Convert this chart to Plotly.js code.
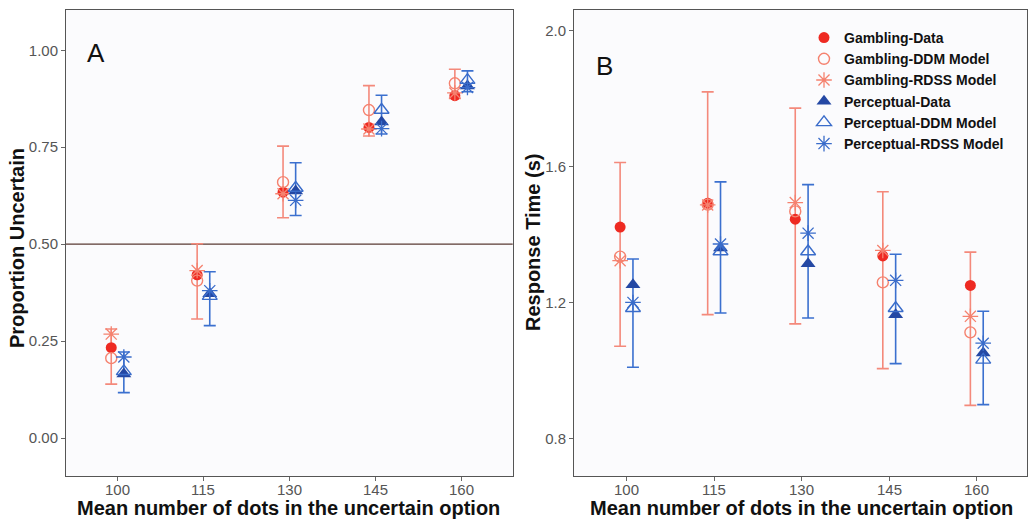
<!DOCTYPE html>
<html><head><meta charset="utf-8">
<script src="https://cdn.plot.ly/plotly-3.0.1.min.js"></script>
<style>html,body{margin:0;padding:0;background:#fff}#chart{width:1028px;height:520px}</style>
</head><body><div id="chart"></div>
<script>
// x categories
const dots = [100, 115, 130, 145, 160];
const dotLabels = ['100', '115', '130', '145', '160'];

// Panel A: proportion uncertain
const propGambData = [0.233, 0.421, 0.634, 0.801, 0.883];
const propGambDDM  = [0.206, 0.406, 0.660, 0.846, 0.915];
const propGambRDSS = [0.268, 0.432, 0.630, 0.797, 0.890];
const propGambErrHi = [0.281, 0.501, 0.753, 0.909, 0.951];
const propGambErrLo = [0.139, 0.307, 0.568, 0.779, 0.876];
const propPercData = [0.165, 0.372, 0.637, 0.815, 0.908];
const propPercDDM  = [0.172, 0.366, 0.645, 0.846, 0.923];
const propPercRDSS = [0.209, 0.380, 0.613, 0.798, 0.904];
const propPercErrHi = [0.222, 0.429, 0.710, 0.884, 0.947];
const propPercErrLo = [0.117, 0.290, 0.574, 0.784, 0.893];

// Panel B: response time (s)
const rtGambData = [1.422, 1.492, 1.445, 1.337, 1.250];
const rtGambDDM  = [1.335, 1.488, 1.468, 1.259, 1.112];
const rtGambRDSS = [1.323, 1.487, 1.494, 1.353, 1.159];
const rtGambErrHi = [1.612, 1.820, 1.772, 1.526, 1.348];
const rtGambErrLo = [1.071, 1.164, 1.137, 1.005, 0.897];
const rtPercData = [1.252, 1.360, 1.314, 1.164, 1.051];
const rtPercDDM  = [1.183, 1.350, 1.350, 1.183, 1.031];
const rtPercRDSS = [1.200, 1.372, 1.404, 1.265, 1.080];
const rtPercErrHi = [1.328, 1.555, 1.547, 1.342, 1.174];
const rtPercErrLo = [1.009, 1.169, 1.154, 1.020, 0.899];

const seriesNames = ['Gambling-Data', 'Gambling-DDM Model', 'Gambling-RDSS Model',
                     'Perceptual-Data', 'Perceptual-DDM Model', 'Perceptual-RDSS Model'];

const RED = '#ee2a22', SALMON = '#f5826f', BLUE = '#2448a4', LBLUE = '#3a6cca';
const ERR_RED = '#f4897b', ERR_BLUE = '#3b70cf';
const DODGE = 1.1;

function xs(off) { return dots.map(d => d + off); }

function panelTraces(xa, ya, legend, g, p) {
  const t = [];
  // error bars (behind markers)
  t.push({x: xs(-DODGE), y: g.lo, xaxis: xa, yaxis: ya, type: 'scatter', mode: 'markers',
    marker: {size: 1, color: 'rgba(0,0,0,0)'}, showlegend: false, hoverinfo: 'skip',
    error_y: {type: 'data', symmetric: false, array: g.hi.map((h, i) => h - g.lo[i]),
      arrayminus: g.lo.map(() => 0), color: ERR_RED, thickness: 1.6, width: 6}});
  t.push({x: xs(DODGE), y: p.lo, xaxis: xa, yaxis: ya, type: 'scatter', mode: 'markers',
    marker: {size: 1, color: 'rgba(0,0,0,0)'}, showlegend: false, hoverinfo: 'skip',
    error_y: {type: 'data', symmetric: false, array: p.hi.map((h, i) => h - p.lo[i]),
      arrayminus: p.lo.map(() => 0), color: ERR_BLUE, thickness: 1.6, width: 6}});
  const defs = [
    [g.data, -DODGE, {symbol: 'circle', size: 11, color: RED}],
    [g.ddm, -DODGE, {symbol: 'circle-open', size: 11, color: SALMON, line: {width: 1.4, color: SALMON}}],
    [g.rdss, -DODGE, {symbol: 'asterisk-open', size: 13, color: SALMON, line: {width: 1.3, color: SALMON}}],
    [p.data, DODGE, {symbol: 'triangle-up', size: 13, color: BLUE}],
    [p.ddm, DODGE, {symbol: 'triangle-up-open', size: 13, color: LBLUE, line: {width: 1.4, color: LBLUE}}],
    [p.rdss, DODGE, {symbol: 'asterisk-open', size: 13, color: LBLUE, line: {width: 1.3, color: LBLUE}}]
  ];
  defs.forEach((d, i) => {
    t.push({x: xs(d[1]), y: d[0], xaxis: xa, yaxis: ya, type: 'scatter', mode: 'markers',
      name: seriesNames[i], marker: d[2], showlegend: legend});
  });
  return t;
}

const traces = [].concat(
  panelTraces('x', 'y', false,
    {data: propGambData, ddm: propGambDDM, rdss: propGambRDSS, hi: propGambErrHi, lo: propGambErrLo},
    {data: propPercData, ddm: propPercDDM, rdss: propPercRDSS, hi: propPercErrHi, lo: propPercErrLo}),
  panelTraces('x2', 'y2', true,
    {data: rtGambData, ddm: rtGambDDM, rdss: rtGambRDSS, hi: rtGambErrHi, lo: rtGambErrLo},
    {data: rtPercData, ddm: rtPercDDM, rdss: rtPercRDSS, hi: rtPercErrHi, lo: rtPercErrLo})
);

const W = 1028, H = 520, ML = 66, MR = 1, MT = 10, MB = 44;
const px = v => (v - ML) / (W - ML - MR);
const py = v => (H - MB - v) / (H - MT - MB);

const FONT = 'Arial, "Liberation Sans", Helvetica, sans-serif';
const TICKFONT = {family: FONT, size: 15, color: '#555'};
const TITLEFONT = {family: FONT, size: 20, color: '#111', weight: 'bold'};
const axisCommon = {
  showline: true, mirror: true, linecolor: '#555', linewidth: 1,
  ticks: 'outside', ticklen: 4, tickcolor: '#666', tickwidth: 1,
  showgrid: false, zeroline: false,
  tickfont: TICKFONT
};

const annotations = [
  {text: 'A', xref: 'paper', yref: 'paper', x: px(96), y: py(53), showarrow: false,
    font: {family: FONT, size: 26, color: '#111'}, xanchor: 'center', yanchor: 'middle'},
  {text: 'B', xref: 'paper', yref: 'paper', x: px(604), y: py(66), showarrow: false,
    font: {family: FONT, size: 26, color: '#111'}, xanchor: 'center', yanchor: 'middle'},
  {text: 'Proportion Uncertain', xref: 'paper', yref: 'paper', x: px(17), y: py(248), textangle: -90,
    showarrow: false, font: TITLEFONT, xanchor: 'center', yanchor: 'middle'},
  {text: 'Response Time (s)', xref: 'paper', yref: 'paper', x: px(533), y: py(243), textangle: -90,
    showarrow: false, font: TITLEFONT, xanchor: 'center', yanchor: 'middle'},
  {text: 'Mean number of dots in the uncertain option', xref: 'paper', yref: 'paper', x: px(288), y: py(508),
    showarrow: false, font: TITLEFONT, xanchor: 'center', yanchor: 'middle'},
  {text: 'Mean number of dots in the uncertain option', xref: 'paper', yref: 'paper', x: px(801.5), y: py(508),
    showarrow: false, font: TITLEFONT, xanchor: 'center', yanchor: 'middle'}
];
// x tick labels placed on the axes' own scales
['x', 'x2'].forEach(xr => {
  dots.forEach((d, i) => annotations.push({text: dotLabels[i], xref: xr, yref: 'paper', x: d, y: py(489),
    showarrow: false, font: TICKFONT, xanchor: 'center', yanchor: 'middle'}));
});

const layout = {
  width: W, height: H,
  margin: {l: ML, r: MR, t: MT, b: MB},
  paper_bgcolor: '#ffffff', plot_bgcolor: '#fbfbfd',
  font: {family: FONT},
  xaxis: Object.assign({}, axisCommon, {domain: [0, px(512.7)], range: [91, 169], tickvals: dots, showticklabels: false, anchor: 'y'}),
  yaxis: Object.assign({}, axisCommon, {range: [-0.098, 1.104], tickvals: [0, 0.25, 0.5, 0.75, 1], tickformat: '.2f', anchor: 'x'}),
  xaxis2: Object.assign({}, axisCommon, {domain: [px(574), 1], range: [91, 168.6], tickvals: dots, showticklabels: false, anchor: 'y2'}),
  yaxis2: Object.assign({}, axisCommon, {range: [0.689, 2.061], tickvals: [0.8, 1.2, 1.6, 2.0], tickformat: '.1f', anchor: 'x2'}),
  shapes: [{type: 'line', xref: 'x domain', yref: 'y', x0: 0, x1: 1, y0: 0.5, y1: 0.5,
    line: {color: '#5a3a33', width: 1.2}, layer: 'below'}],
  legend: {x: px(804), y: py(22), xanchor: 'left', yanchor: 'top', bgcolor: 'rgba(0,0,0,0)',
    font: {family: FONT, size: 14, color: '#111', weight: 'bold'}, tracegroupgap: 0},
  showlegend: true,
  annotations: annotations
};

Plotly.newPlot('chart', traces, layout, {displayModeBar: false, staticPlot: true});
</script>
</body></html>
